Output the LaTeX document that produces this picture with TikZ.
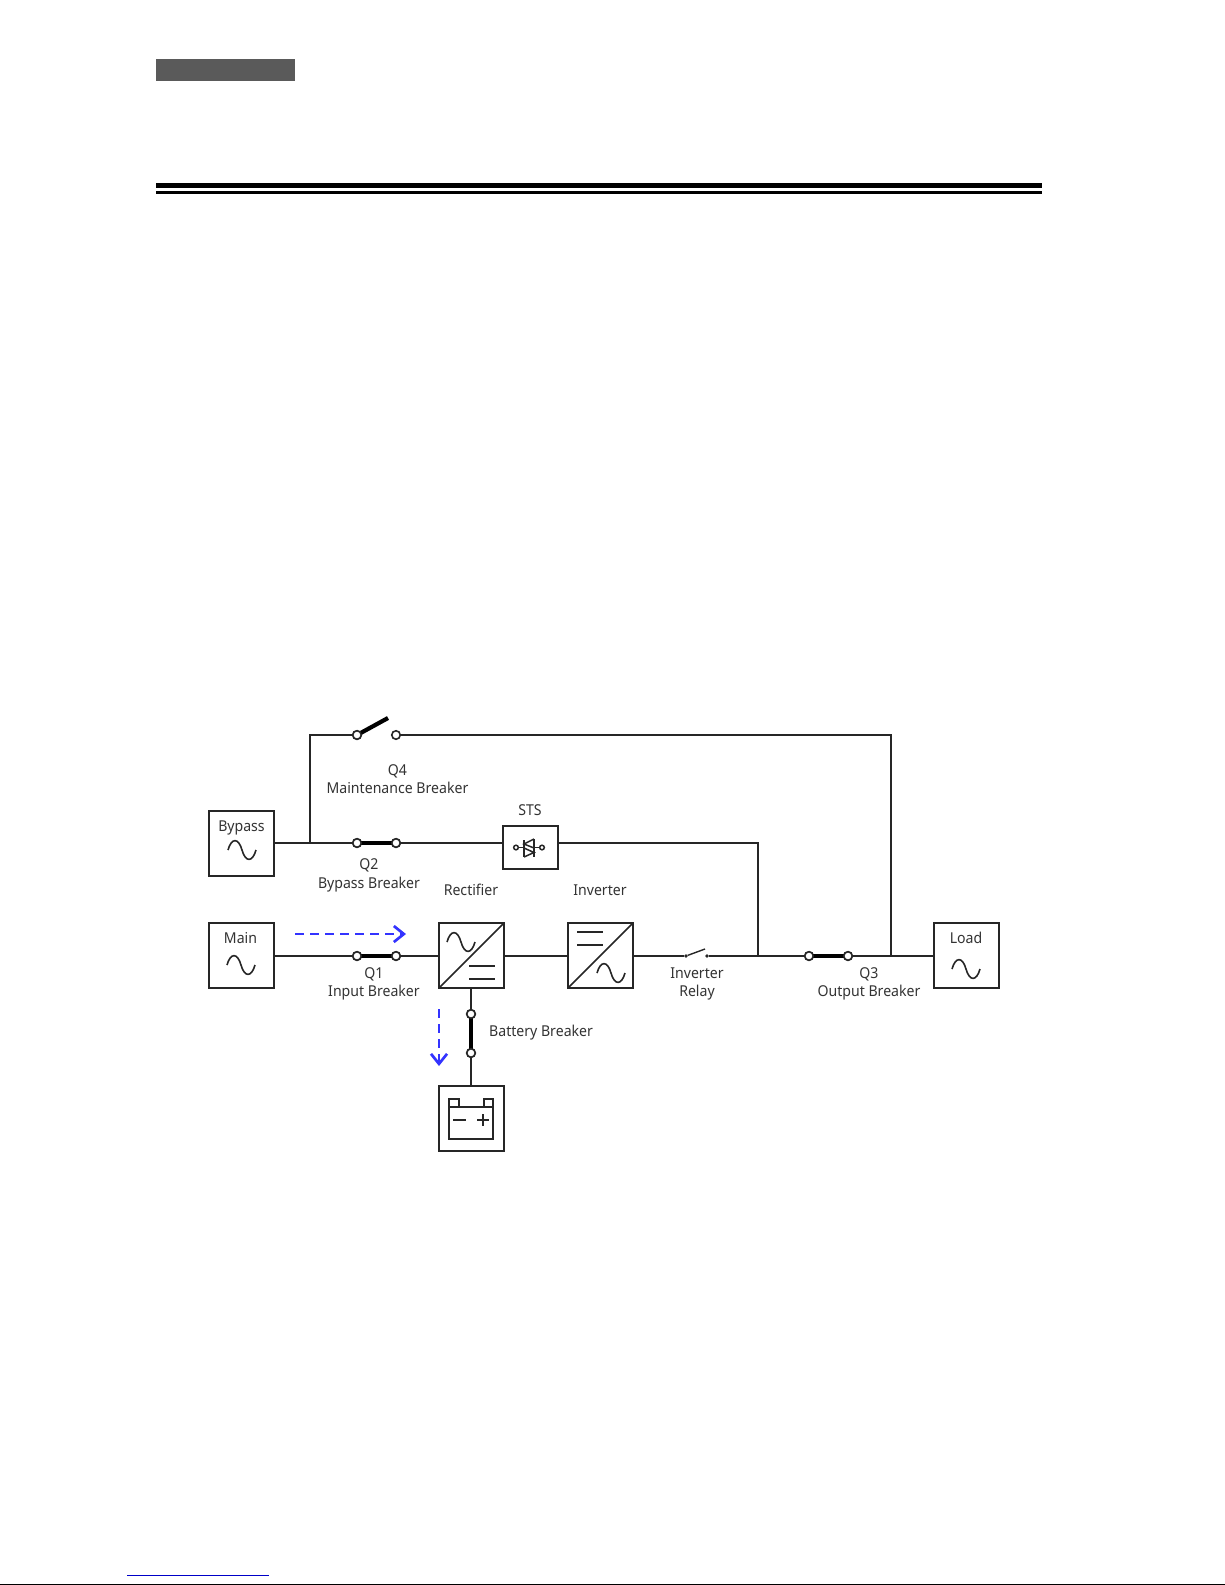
\documentclass[tikz,border=0pt]{standalone}
\usepackage{fontspec}
\setmainfont[FakeStretch=0.94]{Noto Sans}
\usetikzlibrary{arrows.meta}
\definecolor{barcol}{HTML}{5A5A5A}
\definecolor{flow}{HTML}{3333FF}
\definecolor{txt}{HTML}{333333}
\definecolor{linkblue}{HTML}{0000C8}
\tikzset{
  wire/.style={line width=2pt,black!85},
  box/.style={draw=black!85,line width=2pt,minimum width=65pt,minimum height=65pt,inner sep=0pt,outer sep=0pt,fill=white},
  stsbox/.style={box,minimum width=55pt,minimum height=43pt},
  term/.style={circle,draw=black!85,line width=1.6pt,fill=white,minimum size=8.5pt,inner sep=0pt,outer sep=0pt},
  dotterm/.style={circle,fill=black!85,minimum size=3.6pt,inner sep=0pt,outer sep=0pt},
  blade/.style={line width=4.2pt,black},
  lbl/.style={font=\fontsize{15}{18.5}\selectfont,text=txt,align=center,inner sep=0pt},
  flowarrow/.style={line width=2.7pt,flow,dash pattern=on 9pt off 6pt,-{Straight Barb[length=10pt,width=16pt,line width=2.7pt]}},
  detail/.style={line width=1.5pt,black!85},
  pics/sinewave/.style={code={
    \draw[line width=1.6pt,black!85] (-14,0) .. controls (-10.5,-12.5) and (-3.5,-12.5) .. (0,0) .. controls (3.5,12.5) and (10.5,12.5) .. (14,0);
  }}
}
\begin{document}
\begin{tikzpicture}[x=1pt,y=-1pt]
\useasboundingbox (0,0) rectangle (1225,1585);
% page furniture
\fill[barcol] (156,59) rectangle (295,81);
\fill[black] (156,183) rectangle (1042,188);
\fill[black] (156,191) rectangle (1042,194);
\fill[linkblue] (127,1574.5) rectangle (269,1575.8);
\fill[black] (0,1584) rectangle (1225,1585);
% boxes
\node[box] (bypass) at (241.5,843.5) {};
\node[box] (main) at (241,955.5) {};
\node[box] (rect) at (471.5,955.5) {};
\node[box] (inv) at (600.5,955.5) {};
\node[box] (load) at (966.5,955.5) {};
\node[box] (batt) at (471.5,1118) {};
\node[stsbox] (sts) at (530.5,847.5) {};
% terminals
\node[term] (q4a) at (357,735) {};
\node[term] (q4b) at (396,735) {};
\node[term] (q2a) at (357,843) {};
\node[term] (q2b) at (396,843) {};
\node[term] (q1a) at (357,956) {};
\node[term] (q1b) at (396,956) {};
\node[term] (q3a) at (809,956) {};
\node[term] (q3b) at (848,956) {};
\node[term] (bba) at (471,1014) {};
\node[term] (bbb) at (471,1053) {};
\node[dotterm] (ra) at (686,956) {};
\node[dotterm] (rb) at (707,956) {};
\coordinate (tapq4) at (309.5,843);
\coordinate (cornerq4) at (309.5,735);
\coordinate (cornerout) at (891,735);
\coordinate (tapout) at (891,956);
\coordinate (cornersts) at (758,843);
\coordinate (tapsts) at (758,956);
\coordinate (q4tip) at (388,718);
\coordinate (rtip) at (705,949);
% wires
\draw[wire] (main.east |- q1a) -- (q1a);
\draw[wire] (q1b) -- (rect.west |- q1b);
\draw[wire] (rect.east |- q1b) -- (inv.west |- q1b);
\draw[wire] (inv.east |- q1b) -- (ra);
\draw[wire] (rb) -- (q3a);
\draw[wire] (q3b) -- (load.west |- q3b);
\draw[wire] (bypass.east |- q2a) -- (q2a);
\draw[wire] (q2b) -- (sts.west |- q2b);
\draw[wire] (sts.east |- q2b) -- (cornersts) -- (tapsts);
\draw[wire] (tapq4) -- (cornerq4) -- (q4a);
\draw[wire] (q4b) -- (cornerout) -- (tapout);
\draw[wire] (bba |- rect.south) -- (bba);
\draw[wire] (bbb) -- (bbb |- batt.north);
% breaker blades
\draw[blade] (q1a) -- (q1b);
\draw[blade] (q2a) -- (q2b);
\draw[blade] (q3a) -- (q3b);
\draw[blade] (bba) -- (bbb);
\draw[blade] (q4a) -- (q4tip);
\draw[line width=1.4pt,black!85] (ra) -- (rtip);
% redraw open terminals over blades
\foreach \n/\x/\y in {q4a/357/735,q2a/357/843,q2b/396/843,q1a/357/956,q1b/396/956,q3a/809/956,q3b/848/956,bba/471/1014,bbb/471/1053}
  \node[term] at (\x,\y) {};
% flow arrows
\coordinate (fa1) at (295,934);
\coordinate (fa2) at (406,934);
\coordinate (fb1) at (439,1009);
\coordinate (fb2) at (439,1066);
\draw[flowarrow] (fa1) -- (fa2);
\draw[flowarrow] (fb1) -- (fb2);
% source symbols
\pic at (242,850) {sinewave};
\pic at (241,965) {sinewave};
\pic at (966,969) {sinewave};
\pic at (461,942) {sinewave};
\pic at (611,973) {sinewave};
% converters
\draw[detail] (rect.south west) -- (rect.north east);
\draw[detail] (469,966) -- (495,966) (469,979) -- (495,979);
\draw[detail] (inv.south west) -- (inv.north east);
\draw[detail] (577,932) -- (603,932) (577,945) -- (603,945);
% battery
\draw[detail] (449,1107) rectangle (493,1139);
\draw[detail] (449,1107) -- (449,1099) -- (459,1099) -- (459,1107);
\draw[detail] (484,1107) -- (484,1099) -- (493,1099) -- (493,1107);
\draw[detail] (453,1120) -- (466,1120);
\draw[detail] (477,1120) -- (489,1120) (483,1114) -- (483,1126);
% STS symbol
\draw[detail] (516,847.5) -- (524,847.5) (534,847.5) -- (542,847.5);
\draw[detail,fill=white] (516,847.5) circle (2.3pt) (542,847.5) circle (2.3pt);
\draw[detail] (524,840) -- (524,857);
\draw[detail] (534,839) -- (534,857);
\draw[detail] (534,839) -- (524,844) -- (534,848);
\draw[detail] (524,848) -- (534,852.5) -- (524,857);
% labels
\node[lbl] (lq4) at (397.5,779) {Q4\\Maintenance Breaker};
\node[lbl] (lbypass) at (241.5,827.5) {Bypass};
\node[lbl] (lsts) at (530,810) {STS};
\node[lbl] (lq2) at (369,875.5) {Q2\\Bypass Breaker};
\node[lbl] (lrect) at (471,890) {Rectifier};
\node[lbl] (linv) at (600,890) {Inverter};
\node[lbl] (lmain) at (240.5,938.5) {Main};
\node[lbl] (lload) at (966,938) {Load};
\node[lbl] (lq1) at (374,984) {Q1\\Input Breaker};
\node[lbl] (lrelay) at (697,984) {Inverter\\Relay};
\node[lbl] (lq3) at (869,984) {Q3\\Output Breaker};
\node[lbl,anchor=west] (lbb) at (489,1033) {Battery Breaker};
\end{tikzpicture}
\end{document}
